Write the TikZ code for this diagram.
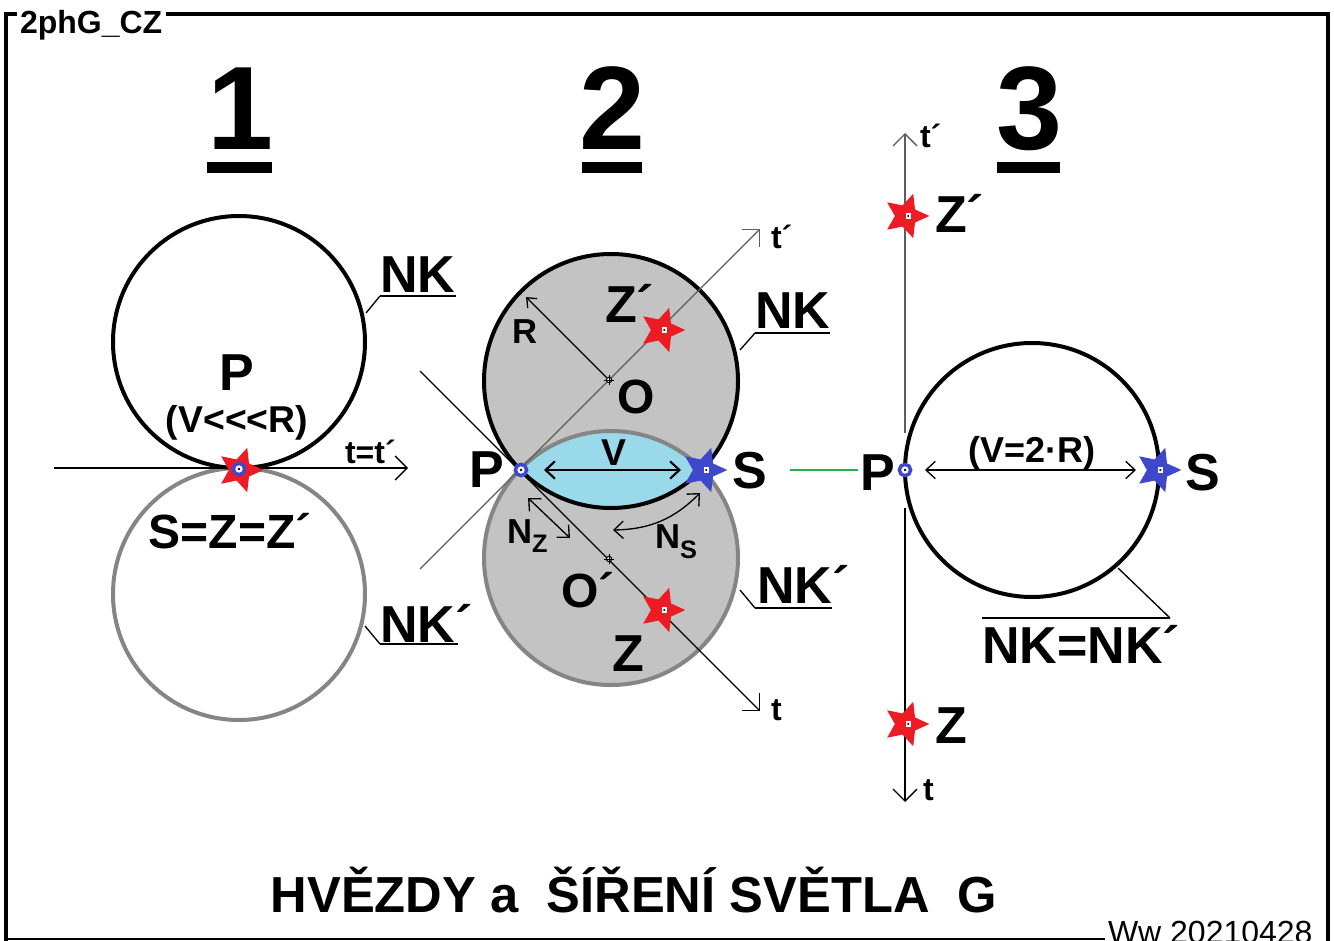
\documentclass[tikz,border=0pt]{standalone}
\usepackage{fontspec}
\setmainfont{Liberation Sans}
\usetikzlibrary{shapes.geometric,arrows.meta}
\definecolor{pred}{HTML}{ED1C24}
\definecolor{pblue}{HTML}{3F48CC}
\definecolor{pgray}{HTML}{C3C3C3}
\definecolor{pdgray}{HTML}{858585}
\definecolor{plens}{HTML}{99D9EA}
\definecolor{pgreen}{HTML}{22B14C}
\newcommand\fsz[1]{\fontsize{#1}{#1}\selectfont}
\tikzset{
  txt/.style={inner sep=0pt, outer sep=0pt, anchor=base west},
  bignum/.style={txt, anchor=base, font=\bfseries\fsz{89}},
  lab/.style={txt, font=\bfseries\fsz{39}},
  labo/.style={txt, font=\bfseries\fsz{36}},
  labm/.style={txt, font=\bfseries\fsz{28}},
  labs/.style={txt, font=\bfseries\fsz{26}},
  tl/.style={txt, font=\bfseries\fsz{24}},
  frame/.style={line width=3.3pt, line cap=rect},
  rim/.style={line width=3pt, draw=black},
  grim/.style={line width=3pt, draw=pdgray},
  lead/.style={line width=1pt},
  uline/.style={line width=1.5pt},
  ax/.style={line width=1pt, -{Straight Barb[length=9pt,width=18pt]}},
  gax/.style={ax, draw=pdgray!70!black},
  dax/.style={line width=1pt, {Straight Barb[length=7pt,width=13pt]}-{Straight Barb[length=7pt,width=13pt]}},
  vax/.style={line width=1.6pt, {Straight Barb[length=7pt,width=13pt]}-{Straight Barb[length=7pt,width=13pt]}},
  starbase/.style={star, star points=5, star point ratio=2.1, shape border rotate=-90,
    draw=none, minimum size=35pt, inner sep=0pt,
    path picture={\fill[white] ([xshift=-2pt,yshift=-2pt]path picture bounding box.center)
        rectangle ([xshift=2pt,yshift=2pt]path picture bounding box.center);
      \fill[black] (path picture bounding box.center) circle[radius=0.8pt];}},
  redstar/.style={starbase, fill=pred},
  bluestar/.style={starbase, fill=pblue},
  pmark/.style={circle, draw=pblue, line width=2.6pt, fill=white, minimum size=8.5pt, inner sep=0pt,
    path picture={\fill[black] (path picture bounding box.center) circle[radius=1pt];}},
  cross/.style={circle, draw=black, line width=0.8pt, fill=white, minimum size=4pt, inner sep=0pt},
}
\begin{document}
\begin{tikzpicture}[x=0.75pt,y=-0.75pt]
\useasboundingbox (0,0) rectangle (1334,941);
\fill[white] (0,0) rectangle (1334,941);

% ---------- frame ----------
\coordinate (fbl) at (6,945);
\coordinate (ftl) at (6,14);
\coordinate (ftla) at (15,14);
\coordinate (ftlb) at (168,14);
\coordinate (ftr) at (1328,14);
\coordinate (fbr) at (1328,945);
\coordinate (fbx) at (1105,939);
\coordinate (fby) at (6,939);
\draw[frame] (fbl) -- (ftl) -- (ftla);
\draw[frame] (ftlb) -- (ftr) -- (fbr);
\draw[line width=1.6pt] (fby) -- (fbx);
\node[txt, font=\bfseries\fsz{24}] (code) at (20,34) {2phG\_CZ};
\node[txt, font=\fsz{24}] (ww) at (1108,943) {Ww 20210428};

% ---------- headings ----------
\node[bignum] (n1) at (240,150) {1};
\node[bignum] (n2) at (612,150) {2};
\node[bignum] (n3) at (1029,150) {3};
\fill (207,162) rectangle (272,173);
\fill (582,162) rectangle (642,173);
\fill (997,162) rectangle (1060,173);

% ---------- panel 1 ----------
\coordinate (c1) at (239,342);
\coordinate (c1b) at (239,594);
\draw[grim] (c1b) circle[radius=94.5pt];
\draw[rim] (c1) circle[radius=94.5pt];
\coordinate (a1s) at (54,468);
\coordinate (a1e) at (408,468);
\draw[ax] (a1s) -- (a1e);
\node[redstar] (s1) at (240,470) {};
\node[pmark] (p1) at (239,469) {};
\node[lab, anchor=base] (p1t) at (237,390) {P};
\node[labm, anchor=base] (vr1) at (237,432) {(V<\kern0pt<\kern0pt<R)};
\node[tl] (tt1) at (345,463) {t=t´};
\node[txt, anchor=base, font=\bfseries\fsz{36}] (szz) at (230,548) {S=Z=Z´};
\node[lab] (nk1) at (380,292) {NK};
\node[lab] (nkp1) at (380,642) {NK´};
\coordinate (l1a) at (366,313);
\coordinate (l1b) at (380,296);
\coordinate (l1c) at (456,296);
\draw[lead] (l1a) -- (l1b);
\draw[uline] (l1b) -- (l1c);
\coordinate (l2a) at (365,626);
\coordinate (l2b) at (380,644);
\coordinate (l2c) at (458,644);
\draw[lead] (l2a) -- (l2b);
\draw[uline] (l2b) -- (l2c);

% ---------- panel 2 ----------
\coordinate (c2) at (611,381);
\coordinate (c2b) at (611,558);
\fill[pgray] (c2) circle[radius=95.25pt];
\fill[pgray] (c2b) circle[radius=95.25pt];
\begin{scope}
  \clip (c2) circle[radius=95.25pt];
  \fill[plens] (c2b) circle[radius=95.25pt];
\end{scope}
\draw[grim] (c2b) circle[radius=95.25pt];
\draw[rim] (c2) circle[radius=95.25pt];
% axes
\coordinate (tp0) at (420,569);
\coordinate (tp1) at (760,229);
\coordinate (t0) at (420,371);
\coordinate (t1) at (760,711);
\draw[gax] (tp0) -- (tp1);
\draw[ax] (t0) -- (t1);
\node[cross] (o) at (609,380) {};
\node[cross] (ob) at (609,559) {};
\draw[line width=0.7pt] ([xshift=-4pt]o.center) -- ([xshift=4pt]o.center) ([yshift=-4pt]o.center) -- ([yshift=4pt]o.center);
\draw[line width=0.7pt] ([xshift=-4pt]ob.center) -- ([xshift=4pt]ob.center) ([yshift=-4pt]ob.center) -- ([yshift=4pt]ob.center);
\coordinate (rr) at (526,297);
\draw[line width=1pt, -{Straight Barb[length=6pt,width=10pt]}] (o) -- (rr);
% markers
\node[pmark] (p2) at (521,470) {};
\node[bluestar] (s2) at (704,470) {};
\node[redstar] (zp2) at (662,330) {};
\node[redstar] (z2) at (662,610) {};
\coordinate (v0) at (544,470);
\coordinate (v1) at (681,470);
\draw[vax] (v0) -- (v1);
\coordinate (nz0) at (528,498);
\coordinate (nz1) at (570,538);
\draw[dax] (nz0) -- (nz1);
\coordinate (ns0) at (613,530);
\coordinate (ns1) at (700,493);
\draw[dax] (ns0) to[bend right=22] (ns1);
% labels
\node[lab] (zp2t) at (605,322) {Z´};
\node[labs] (rt) at (512,343) {R};
\node[labo] (ot) at (617,413) {O};
\node[tl] (tp2t) at (771,248) {t´};
\node[lab] (p2t) at (469,487) {P};
\node[labm] (vt) at (601,465) {V};
\node[lab] (s2t) at (732,488) {S};
\node[labs] (nzt) at (507,543) {N\raisebox{-7pt}{\fsz{19}Z}};
\node[labs] (nst) at (655,548) {N\raisebox{-8pt}{\fsz{19}S}};
\node[labo] (obt) at (561,607) {O´};
\node[lab] (z2t) at (612,671) {Z};
\node[tl] (t2t) at (771,720) {t};
\node[lab] (nk2) at (755,328) {NK};
\node[lab] (nkp2) at (757,603) {NK´};
\coordinate (l3a) at (740,350);
\coordinate (l3b) at (755,333);
\coordinate (l3c) at (830,333);
\draw[lead] (l3a) -- (l3b);
\draw[uline] (l3b) -- (l3c);
\coordinate (l4a) at (740,590);
\coordinate (l4b) at (755,608);
\coordinate (l4c) at (832,608);
\draw[lead] (l4a) -- (l4b);
\draw[uline] (l4b) -- (l4c);
% green link
\coordinate (g0) at (790,470);
\coordinate (g1) at (858,470);
\draw[pgreen, line width=1.5pt] (g0) -- (g1);

% ---------- panel 3 ----------
\coordinate (c3) at (1032,470);
\draw[rim] (c3) circle[radius=95.25pt];
\coordinate (u0) at (905,433);
\coordinate (u1) at (905,133);
\coordinate (d0) at (905,508);
\coordinate (d1) at (905,802);
\draw[gax] (u0) -- (u1);
\draw[ax] (d0) -- (d1);
\node[pmark] (p3) at (905,470) {};
\node[bluestar] (s3) at (1158,470) {};
\node[redstar] (zp3) at (906,216) {};
\node[redstar] (z3) at (906,724) {};
\coordinate (w0) at (925,470);
\coordinate (w1) at (1136,470);
\draw[dax] (w0) -- (w1);
\node[tl] (tp3t) at (920,148) {t´};
\node[lab] (zp3t) at (935,233) {Z´};
\node[lab] (p3t) at (860,490) {P};
\node[txt, font=\bfseries\fsz{27}] (v3t) at (968,462) {(V=2·R)};
\node[lab] (s3t) at (1185,490) {S};
\node[lab] (z3t) at (935,743) {Z};
\node[tl] (t3t) at (923,800) {t};
\node[lab] (nk3) at (982,663) {NK=NK´};
\coordinate (l5a) at (1118,568);
\coordinate (l5b) at (1170,618);
\coordinate (l5c) at (982,618);
\draw[lead] (l5a) -- (l5b);
\draw[uline] (l5b) -- (l5c);

% ---------- title ----------
\node[txt, anchor=base, font=\bfseries\fsz{38}] (title) at (634,912) {HVĚZDY a\ \ ŠÍŘENÍ SVĚTLA\ \ G};
\end{tikzpicture}
\end{document}
